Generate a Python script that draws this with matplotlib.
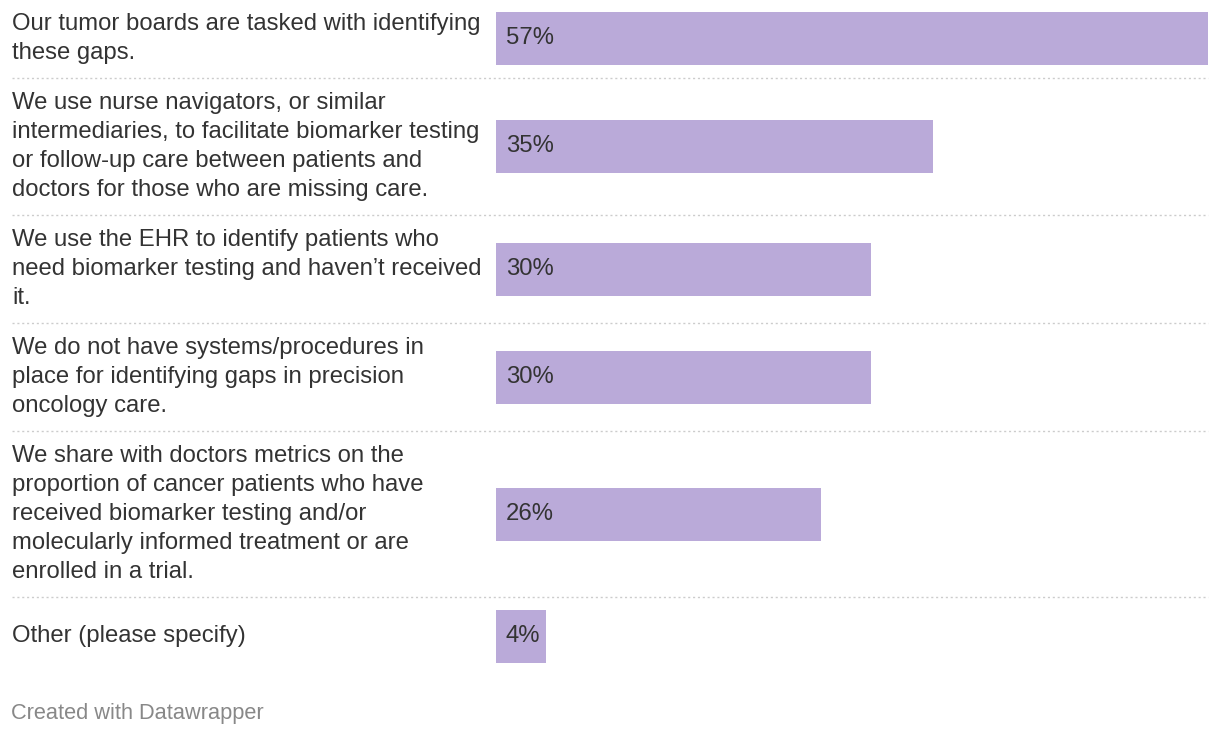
import matplotlib
matplotlib.use("Agg")
import matplotlib.pyplot as plt

# Data
labels = [
    "Our tumor boards are tasked with identifying\nthese gaps.",
    "We use nurse navigators, or similar\nintermediaries, to facilitate biomarker testing\n"
    "or follow-up care between patients and\ndoctors for those who are missing care.",
    "We use the EHR to identify patients who\nneed biomarker testing and haven\u2019t received\nit.",
    "We do not have systems/procedures in\nplace for identifying gaps in precision\noncology care.",
    "We share with doctors metrics on the\nproportion of cancer patients who have\n"
    "received biomarker testing and/or\nmolecularly informed treatment or are\nenrolled in a trial.",
    "Other (please specify)",
]
values = [57, 35, 30, 30, 26, 4]

BAR_COLOR = "#baaad9"
TEXT_COLOR = "#333333"
W, H = 1220, 736
LINE_H = 29      # px per text line
BAR_H = 53       # px
PAD = 10.5       # px above/below row content

plt.rcParams["font.family"] = ["Liberation Sans", "DejaVu Sans"]
FS = 17.2

fig = plt.figure(figsize=(W / 100, H / 100), dpi=100)
bg = fig.add_axes([0, 0, 1, 1])
bg.set_xlim(0, W)
bg.set_ylim(H, 0)
bg.axis("off")

ax = fig.add_axes([496 / W, 0, 712 / W, 1])
ax.set_xlim(0, max(values))
ax.set_ylim(H, 0)
ax.axis("off")

# row layout from line counts
y = -1
centers, seps = [], []
for lab in labels:
    n = lab.count("\n") + 1
    content = max(n * LINE_H, BAR_H)
    pad = PAD if n > 1 else PAD + 2
    centers.append(y + pad + content / 2)
    y += content + 2 * PAD
    seps.append(y)

ax.barh(centers, values, height=BAR_H, color=BAR_COLOR, linewidth=0)

for lab, val, c in zip(labels, values, centers):
    bg.text(12, c, lab, ha="left", va="center", fontsize=FS, color=TEXT_COLOR,
            linespacing=1.41)
    ax.text(506, c, f"{val}%", ha="left", va="center", fontsize=FS,
            color=TEXT_COLOR, transform=bg.transData)

for s in seps[:-1]:
    bg.plot([12, 1208], [s, s], color="#cccccc", lw=1, linestyle=(0, (1.5, 2)))

bg.text(11, 713, "Created with Datawrapper", ha="left", va="center",
        fontsize=15.7, color="#888888")

fig.savefig("out.png", dpi=100)
